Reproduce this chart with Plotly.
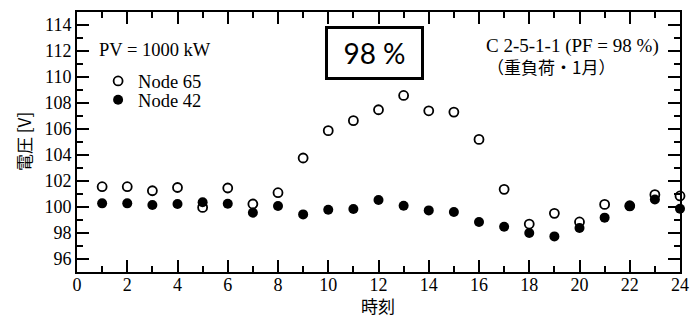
import plotly.graph_objects as go

hours = list(range(1, 25))
node65 = [101.56, 101.56, 101.25, 101.5, 99.97, 101.46, 100.23, 101.1, 103.77, 105.87,
          106.64, 107.48, 108.58, 107.4, 107.3, 105.2, 101.36, 98.69, 99.51, 98.85,
          100.2, 100.1, 100.95, 100.85]
node42 = [100.28, 100.28, 100.15, 100.23, 100.36, 100.25, 99.56, 100.08, 99.43, 99.79,
          99.85, 100.54, 100.1, 99.74, 99.62, 98.85, 98.48, 98.0, 97.74, 98.38,
          99.18, 100.05, 100.58, 99.87]
x_ticks = list(range(0, 25, 2))
y_ticks = list(range(96, 115, 2))

serif = "Liberation Serif"
cjk = "Noto Sans CJK JP"

fig = go.Figure()
fig.add_trace(go.Scatter(x=hours, y=node65, mode="markers", name="Node 65",
                         legend="legend",
                         marker=dict(symbol="circle-open", size=9, color="black",
                                     line=dict(width=1.8, color="black")),
                         cliponaxis=False))
fig.add_trace(go.Scatter(x=hours, y=node42, mode="markers", name="Node 42",
                         legend="legend2",
                         marker=dict(symbol="circle", size=10, color="black"),
                         cliponaxis=False))

axis_common = dict(showgrid=False, zeroline=False, showline=True, linecolor="black",
                   linewidth=2, mirror="ticks", ticks="inside", tickcolor="black",
                   tickwidth=1.5, ticklen=12,
                   tickfont=dict(family=serif, size=18, color="black"))

fig.update_xaxes(range=[0, 24], tickvals=x_ticks, ticklabelstandoff=-5,
                 minor=dict(ticks="inside", ticklen=6, dtick=1, tick0=0,
                            tickcolor="black", tickwidth=1.5),
                 **axis_common)
fig.update_yaxes(range=[95, 115], tickvals=y_ticks,
                 minor=dict(ticks="inside", ticklen=6, dtick=1, tick0=95,
                            tickcolor="black", tickwidth=1.5),
                 **axis_common)

leg_common = dict(xanchor="left", yanchor="middle", bgcolor="rgba(0,0,0,0)",
                  borderwidth=0, font=dict(family=serif, size=18.5, color="black"))

fig.update_layout(
    width=699, height=320,
    margin=dict(l=77, r=11, t=10, b=48),
    plot_bgcolor="white", paper_bgcolor="white",
    showlegend=True,
    legend=dict(x=0.035, y=0.733, **leg_common),
    legend2=dict(x=0.035, y=0.661, **leg_common),
    annotations=[
        dict(text="98 %", xref="paper", yref="paper", x=0.4928, y=0.8405,
             xanchor="center", yanchor="middle", showarrow=False,
             font=dict(family="Lato, Open Sans, sans-serif", size=28, color="black"),
             bordercolor="black", borderwidth=3, width=91, height=46, bgcolor="white"),
        dict(text="PV = 1000 kW", xref="paper", yref="paper", x=0.033, y=0.855,
             xanchor="left", yanchor="middle", showarrow=False,
             font=dict(family=serif, size=18.5, color="black")),
        dict(text="C 2-5-1-1 (PF = 98 %)", xref="paper", yref="paper", x=0.6755, y=0.868,
             xanchor="left", yanchor="middle", showarrow=False,
             font=dict(family=serif, size=19, color="black")),
        dict(text="（重負荷・1月）", xref="paper", yref="paper", x=0.7856, y=0.792,
             xanchor="center", yanchor="middle", showarrow=False,
             font=dict(family=cjk, size=17, color="black")),
        dict(text="電圧 [V]", xref="paper", yref="paper", x=-0.09, y=0.503,
             xanchor="center", yanchor="middle", showarrow=False, textangle=-90,
             font=dict(family=cjk, size=17, color="black")),
        dict(text="時刻", xref="paper", yref="paper", x=0.4987, y=-0.127,
             xanchor="center", yanchor="middle", showarrow=False,
             font=dict(family=cjk, size=17, color="black")),
    ],
)

fig.write_html("out.html", config={"displayModeBar": False},
               post_script="document.body.style.margin='0';")
